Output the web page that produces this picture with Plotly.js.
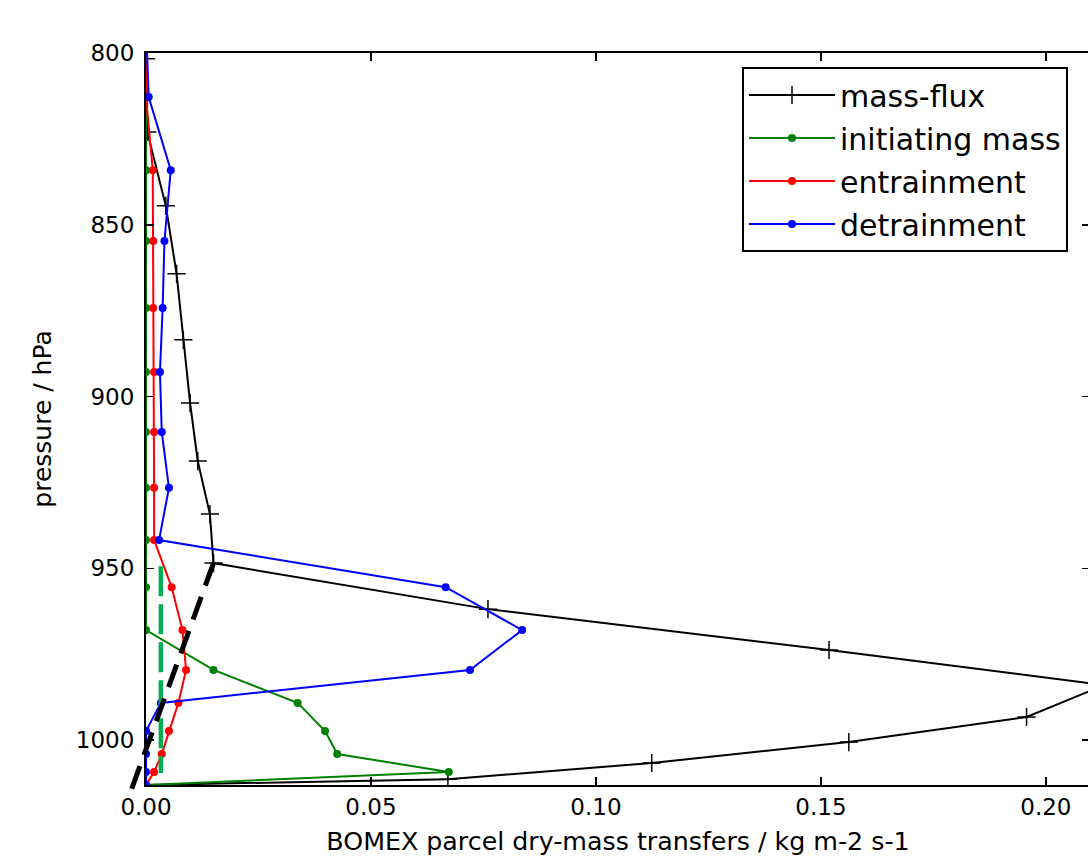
<!DOCTYPE html>
<html><head><meta charset="utf-8">
<script src="https://cdn.plot.ly/plotly-3.0.1.min.js"></script>
<style>html,body{margin:0;padding:0;overflow:hidden;background:#fff}#chart{width:1090px;height:864px}</style>
</head><body><div id="chart"></div>
<script>
// half levels (mass-flux) in hPa
const fluxPressure = [780.5, 801.7, 823.0, 844.5, 864.3, 883.5, 901.9, 918.8, 934.2, 948.5, 961.9, 973.8, 984.0, 993.3, 1000.6, 1006.7, 1011.4, 1013.1];
const massFlux     = [0.0, 0.0, 0.0003, 0.0044, 0.0068, 0.0083, 0.0098, 0.0115, 0.0142, 0.0150, 0.0760, 0.1518, 0.2130, 0.1957, 0.1562, 0.1124, 0.0671, 0.0];
// full levels in hPa
const levelPressure = [791.5, 812.8, 834.1, 854.7, 874.2, 892.9, 910.3, 926.6, 941.8, 955.5, 968.0, 979.6, 989.2, 997.4, 1004.1, 1009.3, 1013.1];
const initiatingMass = [0, 0, 0, 0, 0, 0, 0, 0, 0, 0, 0, 0.0150, 0.0337, 0.0398, 0.0425, 0.0673, 0];
const entrainment    = [0, 0, 0.0015, 0.0016, 0.0016, 0.0018, 0.0018, 0.0018, 0.0018, 0.0057, 0.0081, 0.0089, 0.0072, 0.0051, 0.0035, 0.0018, 0];
const detrainment    = [0, 0.0006, 0.0055, 0.0041, 0.0037, 0.0031, 0.0035, 0.0051, 0.0029, 0.0666, 0.0836, 0.0720, 0.0033, 0, 0, 0, 0];
// annotation lines
const cutoffX = [0.0150, -0.0032];
const cutoffP = [948.5, 1014.3];
const initLevelX = [0.0033, 0.0033];
const initLevelP = [949.4, 1009.6];
const seriesNames = ["mass-flux", "initiating mass", "entrainment", "detrainment"];
const xTickVals = [0, 0.05, 0.10, 0.15, 0.20];
const yTickVals = [800, 850, 900, 950, 1000];

const FONT = "DejaVu Sans, sans-serif";
const W = 1090, H = 864, ML = 126, MR = 0, MT = 53, MB = 64;
const padL = 20, padB = 15; // main axes start inside the full area
const xRange = [0, 0.2098], yRange = [1013.1, 800];
const areaW = W - ML - MR, areaH = H - MT - MB;
const xd0 = padL / areaW, yd0 = padB / areaH;
const pxPerX = (areaW - padL) / (xRange[1] - xRange[0]);
const pxPerY = (areaH - padB) / (yRange[0] - yRange[1]);
const x2Range = [xRange[0] - padL / pxPerX, xRange[1]];
const y2Range = [yRange[0] + padB / pxPerY, yRange[1]];

const traces = [
  {x: massFlux, y: fluxPressure, name: seriesNames[0], mode: "lines+markers", legendgroup: "a",
   line: {color: "#000000", width: 2}, marker: {symbol: "cross-thin", size: 13, line: {color: "#000000", width: 1.5}}},
  {x: initiatingMass, y: levelPressure, name: seriesNames[1], mode: "lines+markers", legendgroup: "b",
   line: {color: "#008000", width: 2}, marker: {symbol: "circle", size: 8, color: "#008000"}},
  {x: entrainment, y: levelPressure, name: seriesNames[2], mode: "lines+markers", legendgroup: "c",
   line: {color: "#ff0000", width: 2}, marker: {symbol: "circle", size: 8, color: "#ff0000"}},
  {x: detrainment, y: levelPressure, name: seriesNames[3], mode: "lines+markers", legendgroup: "d",
   line: {color: "#0000ff", width: 2}, marker: {symbol: "circle", size: 8, color: "#0000ff"}},
  {x: initLevelX, y: initLevelP, mode: "lines", showlegend: false, hoverinfo: "skip",
   line: {color: "#00b050", width: 4.5, dash: "30px,8px"}},
  {x: cutoffX, y: cutoffP, mode: "lines", showlegend: false, hoverinfo: "skip", xaxis: "x2", yaxis: "y2",
   line: {color: "#000000", width: 5, dash: "24px,12px"}}
];

const axisCommon = {
  showgrid: false, zeroline: false, showline: true, linecolor: "#000", linewidth: 2,
  mirror: "ticks", ticks: "inside", ticklen: 8, tickwidth: 1.5, tickcolor: "#000",
  tickfont: {family: FONT, size: 23, color: "#000"}
};

const layout = {
  width: W, height: H,
  margin: {l: ML, r: MR, t: MT, b: MB, pad: 0},
  paper_bgcolor: "#fff", plot_bgcolor: "rgba(0,0,0,0)",
  font: {family: FONT, color: "#000"},
  showlegend: true,
  xaxis: Object.assign({}, axisCommon, {
    domain: [xd0, 1], anchor: "y", range: xRange, tickvals: xTickVals, tickformat: ".2f",
    title: {text: "BOMEX parcel dry-mass transfers / kg m-2 s-1", font: {family: FONT, size: 25.3, color: "#000"}, standoff: 14}
  }),
  yaxis: Object.assign({}, axisCommon, {
    domain: [yd0, 1], anchor: "x", range: yRange, tickvals: yTickVals,
    ticklabelstandoff: 5,
    title: {text: "pressure / hPa", font: {family: FONT, size: 25, color: "#000"}, standoff: 17}
  }),
  xaxis2: {domain: [0, 1], anchor: "y2", range: x2Range, visible: false, showgrid: false, zeroline: false},
  yaxis2: {domain: [0, 1], anchor: "x2", range: y2Range, visible: false, showgrid: false, zeroline: false},
  legend: {
    x: (742 - ML) / areaW, y: 1 - (67 - MT) / areaH, xanchor: "left", yanchor: "top",
    bgcolor: "#fff", bordercolor: "#000", borderwidth: 2,
    font: {family: FONT, size: 30, color: "#000"},
    tracegroupgap: 1, itemwidth: 86
  }
};

Plotly.newPlot("chart", traces, layout, {displayModeBar: false, staticPlot: true});
</script>
</body></html>
